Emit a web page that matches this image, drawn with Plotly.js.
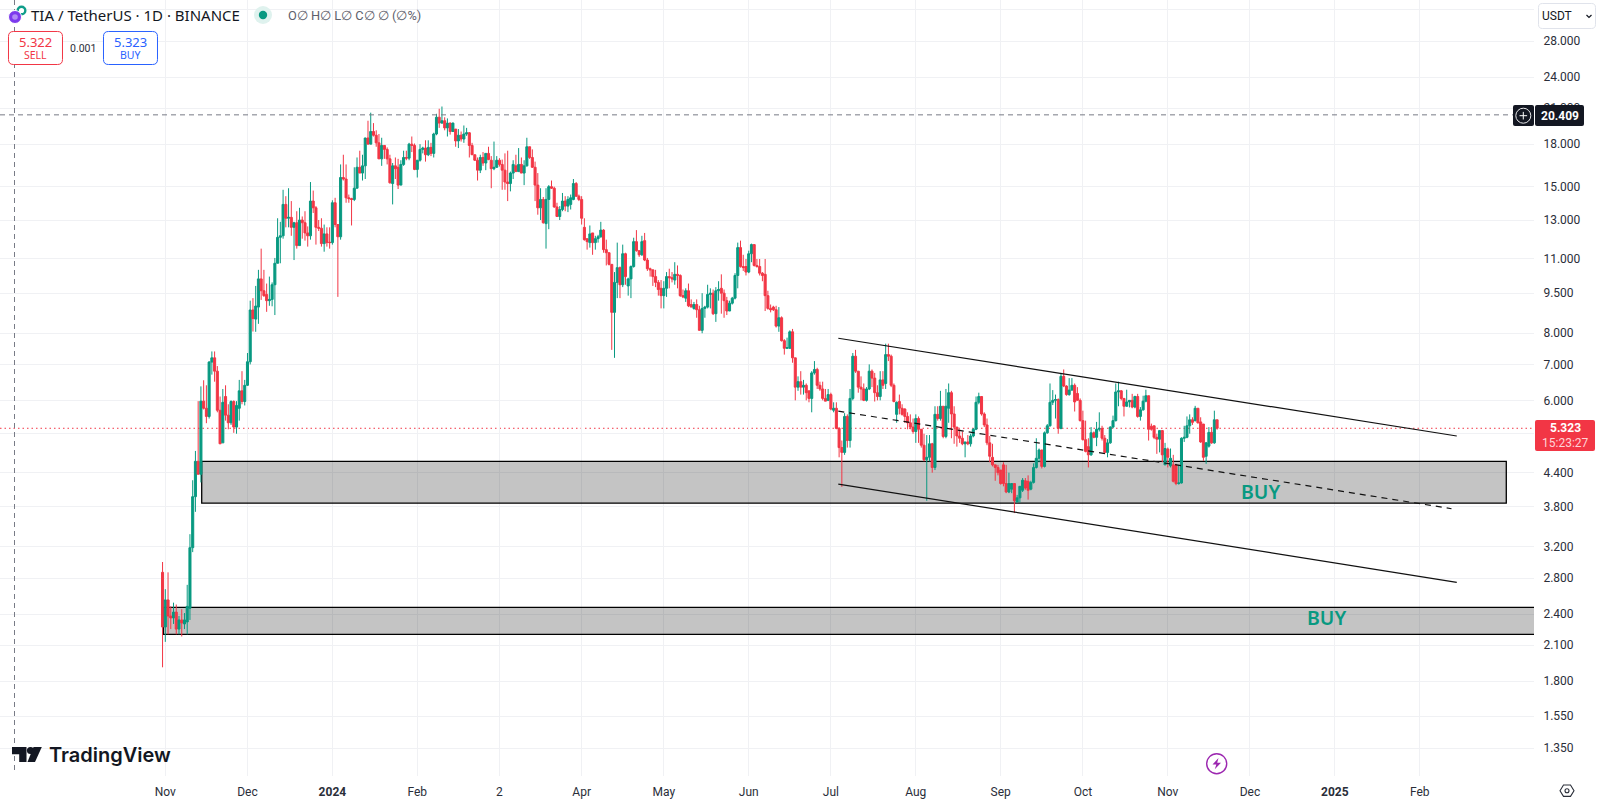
<!DOCTYPE html>
<html>
<head>
<meta charset="utf-8">
<script src="https://cdn.plot.ly/plotly-3.0.1.min.js"></script>
<style>html,body{margin:0;padding:0;background:#fff;overflow:hidden}#chart{width:1597px;height:803px}</style>
</head>
<body>
<div id="chart"></div>
<script>
var firstDay = "2023-10-31";
var opens = [
2.87,2.27,2.55,2.38,2.36,2.42,2.25,2.34,2.3,2.32,
2.46,3.19,3.97,4.62,4.37,5.98,5.8,5.6,7.07,7.2,
6.8,5.75,5,6.1,5.63,5.45,5.97,5.35,5.8,6.25,
5.97,6.4,7.08,8.84,8.5,8.95,10.1,9.6,9.45,9.2,
9.25,9.85,10.8,12.07,12.15,13.9,13.1,13.15,12.6,12.85,
11.65,13,12.85,12.3,12.15,14.1,13.7,12.6,12.55,11.75,
12.25,11.82,11.8,14,12.75,12.1,15.6,15.5,14.3,14.25,
14.2,14.9,16.3,15.9,16.4,18.48,18,19,18.7,18.1,
16.9,17.9,17.6,16.9,15.2,16.4,16.3,15.1,16.5,17,
16.95,18,17.9,16.15,16.8,17.6,17.7,17.2,17.75,17.3,
18.8,20.2,19.7,19.9,19.3,19.7,19,19.2,18.25,18.7,
18.4,18.8,18.9,17.9,17.2,16.8,16.1,17,16.6,17.3,
16.8,16.2,16.3,16.8,16.5,16.1,15.3,15.2,15.9,16.4,
16,16.5,15.9,16.4,17.8,17,16.3,15.1,13.7,14.2,
12.8,14.2,15,14.9,13.75,13.2,13.6,14.1,13.8,13.9,
14.2,15.2,14.4,14.2,12.6,12,11.8,12.3,11.8,12,
12.1,12.45,11.45,11.3,10.75,8.75,9.95,10.6,9.85,11.25,
9.8,10.1,10.65,11.85,11.4,11.2,11.9,10.95,10.55,10.5,
10.2,9.95,9.7,9.4,9.7,10.2,10.15,10.05,10.3,10.25,
9.4,9.3,9.6,9.05,8.9,9.05,8.85,8.1,8.9,8.95,
9.45,9.5,8.7,9.6,9.7,9.5,9.2,8.8,9.1,9.3,
10.25,11.55,10.65,10.65,10.4,11.25,11.7,10.7,10.65,10.35,
10.3,9.4,8.9,8.95,8.85,8.25,8.55,7.75,7.5,7.5,
8.05,7.2,6.35,6.5,6.35,6.4,6.25,6.05,6.75,6.85,
6.4,6.3,6.05,6,6.15,5.75,5.8,5.32,4.9,4.8,
5.6,5.05,6.05,7.25,6.8,6.35,6.3,6,6.3,6.8,
6.6,6.2,6.1,6.55,6.45,7.3,7.25,6.4,5.65,5.97,
5.8,5.78,5.6,5.45,5.35,5.25,5.55,5.3,4.95,4.65,
4.7,4.98,4.5,5.65,5.55,5.85,5.14,5.8,6.2,5.66,
5.35,5.15,5.1,4.98,5.02,4.98,5.15,5.3,5.95,6.1,
5.66,5.4,5,4.7,4.55,4.5,4.45,4.55,4.2,4.05,
4.1,4.2,3.88,3.95,4.08,4.25,4.24,4.1,4.22,4.5,
4.68,4.85,4.52,5.22,5.38,5.95,6,6.02,5.32,6.65,
6.38,6.15,6.27,6.4,6.18,6,5.5,5.07,4.92,4.75,
5.22,5.12,5.3,5.32,5.1,4.8,5,5.35,5.5,6.22,
6.25,6.05,5.85,5.96,6,5.83,6.1,5.6,5.76,5.98,
6.12,5.37,5.38,5.12,5.08,5.27,4.55,4.87,4.53,4.55,
4.55,4.2,4.21,5.1,5.12,5.38,5.52,5.5,5.8,5.47,
5.42,4.72,4.93,5.23,5,5.52
];
var highs = [
3.0,2.67,2.87,2.48,2.52,2.5,2.38,2.45,2.41,2.72,
3.38,4.26,4.83,5.98,6.37,6.54,6.4,7.1,7.4,7.4,
6.95,6.1,6.3,6.4,5.9,6,6,5.98,6.55,6.8,
6.55,7.35,9.2,9.3,9.8,10.5,11.5,10.5,9.9,10.2,
9.95,11.05,13.1,12.9,14.8,14.4,14.9,14.1,12.9,13.5,
13.7,13.2,13.5,12.65,15.3,14.75,13.8,13,13.1,12.75,
12.6,12.6,14.15,14.3,12.75,16.5,17.2,16.5,14.5,14.3,
16.3,17,17.5,17.2,18.5,19.9,20.6,19.7,19.1,18.8,
18.5,17.9,17.75,17.2,16.6,17,16.9,16.8,17.5,17.5,
18.1,18.6,18.05,16.8,18,17.8,18.3,18.3,18.1,18.9,
20.5,20.95,21.15,20.2,20.1,19.75,19.75,19.2,19.2,19,
19.5,19.3,18.95,18.1,17.2,17,17.2,17.4,17.3,17.8,
17.1,18.2,17.1,16.95,16.85,17.3,17.5,16,16.8,17.2,
17.7,17,16.8,18.5,17.8,17.6,16.7,15.9,14.9,14.35,
14.9,15.1,15.4,15,14,13.8,14.6,14.4,14.4,14.5,
15.5,15.3,14.5,14.4,13.1,12,12.7,12.3,12.15,12.2,
12.9,12.5,11.95,11.3,10.75,10.4,11.8,10.65,11.7,11.3,
10.15,10.7,12.05,12.45,11.4,12.15,12.3,11.05,10.6,10.5,
10.5,10.05,10.05,10,10.4,10.55,10.4,10.85,10.7,10.3,
9.65,9.7,9.9,9.25,9.15,9.25,9,9.5,9,9.85,
9.7,9.65,9.75,10,10.3,9.65,9.35,9.2,9.35,10.35,
11.8,11.9,11.2,11,11.4,11.75,11.7,11,11,10.4,
11,9.6,9.05,9,9,8.95,8.6,7.8,7.85,8.1,
8.15,7.2,6.65,6.8,6.55,6.45,6.25,6.8,7.1,6.9,
6.5,6.5,6.3,6.3,6.2,5.95,5.95,5.35,5.05,5.68,
5.65,6.3,7.35,7.45,6.8,6.65,6.45,6.35,7,6.85,
6.75,6.4,6.8,6.8,7.65,7.65,7.3,6.45,5.97,6.15,
5.9,5.8,5.7,5.65,5.55,5.65,5.6,5.3,5.2,5.17,
5.17,5,5.85,5.85,6.25,5.85,6.3,6.45,6.25,5.85,
5.35,5.3,5.25,5.02,5.17,5.2,5.33,6.1,6.2,6.1,
5.7,5.55,5.15,4.98,4.55,4.55,4.45,4.6,4.55,4.4,
4.2,4.2,4,4.15,4.3,4.3,4.35,4.25,4.58,5.1,
4.88,4.85,5.25,5.42,6.45,6.27,6.15,6.05,6.75,6.85,
6.4,6.6,6.6,6.45,6.35,6.05,5.74,5.5,5.1,5.35,
5.25,5.47,5.7,5.38,5.17,5.08,5.37,5.62,6.45,6.5,
6.27,6.06,6.28,6,6.17,6.12,6.17,5.83,6.12,6.28,
6.12,5.43,5.38,5.2,5.27,5.28,5,4.9,4.88,4.75,
4.57,4.55,5.12,5.38,5.6,5.65,5.58,5.86,5.8,5.58,
5.42,5.02,5.35,5.35,5.74,5.52
];
var lows = [
1.91,2.13,2.2,2.25,2.3,2.2,2.2,2.18,2.25,2.2,
2.34,3.13,3.72,4.37,4.22,5.77,5.44,5.55,6.7,6.5,
5.7,4.98,5,5.5,5.3,5.4,5.22,5.2,5.5,5.9,
5.87,6.38,7,8.06,8.05,8.33,9.23,9.35,8.77,9,
8.98,8.65,10.8,10.8,12,12.6,12.6,12.15,10.95,11.5,
11.65,12,11.9,11.6,11.95,13.4,11.7,12.4,11.6,11.35,
11.6,11.5,11.7,12.6,9.35,11.95,15.4,14,14,12.7,
14.1,14.9,15.9,15.4,15.5,18,18,18.6,17.8,16.9,
16.4,16.9,16.5,15.2,13.9,15.5,14.85,15.1,16.4,16.8,
16.8,17.4,16.1,15.6,16.7,17.3,16.7,17.1,17.1,17,
18.7,19.3,19.65,19.1,18.6,18.75,19,17.8,17.7,18.2,
18.1,18.65,17,17.2,16.75,15.4,15.9,16.4,16.1,16.8,
14.9,16.1,16.25,16.35,14.8,14.8,14.1,14.7,15.5,16,
16,15.9,15.1,16.35,16.9,16.25,14.1,13.3,13,12.8,
11.5,12.5,14.85,13.7,13.2,13,13.5,13.5,13.45,13.6,
14.15,14.35,14.1,12.75,11.9,11.45,11.55,11.2,11.45,11.8,
12.05,11.3,10.7,10.7,7.45,7.2,9.3,9.3,9.75,9.85,
9.4,9.3,10.6,11.35,11.1,11.15,10.9,10.45,10.2,9.8,
9.75,9.4,8.9,8.9,9.35,9.7,9.95,9.85,9.7,9.35,
9.3,9.15,8.95,8.95,8.85,8.55,8.1,8,8.55,8.9,
8.9,8.65,8.4,9.2,8.7,8.55,8.65,8.8,9.05,9.25,
9.7,10.6,10.45,10.25,10.35,10.85,10.65,10.6,10.25,10,
8.8,8.85,8.75,8.8,8.2,8.05,7.72,7.3,7.48,7.48,
7.05,6,6.25,6.15,6.15,6,5.95,5.7,6.7,6.3,
6.25,6,5.98,5.98,5.75,5.7,5.3,4.7,4.14,4.75,
4.9,4.9,6,6.75,6.2,6,5.98,5.97,6.27,6.35,
5.97,6,6,6.3,6.3,7.1,6.35,5.95,5.45,5.65,
5.62,5.45,5.3,5.3,5.2,5,5,4.9,4.62,3.9,
4.62,4.4,4.45,5.5,5.5,5.1,5.1,5.45,5.1,4.98,
4.92,5,4.95,4.7,4.95,4.92,5.12,5.28,5.9,5.62,
5.35,4.95,4.6,4.52,4.25,4.35,4.18,4.15,4.03,4.03,
4.03,3.7,3.87,3.87,4.05,4.09,3.92,4.08,4.2,4.48,
4.6,4.48,4.5,5.2,5.36,5.88,5.55,5.2,5.3,6.35,
6.12,6.12,6.25,5.72,6,5.48,5.05,4.8,4.5,4.73,
5.1,4.93,5.25,5.05,4.78,4.7,4.98,5.32,5.48,5.85,
6,5.6,5.84,5.82,5.8,5.8,5.57,5.5,5.74,5.95,
5.05,5.27,5.08,4.77,4.8,4.6,4.55,4.5,4.5,4.22,
4.17,4.18,4.2,5.02,5.1,5.2,5.4,5.48,5.43,5,
4.63,4.57,4.9,4.98,4.98,5.29
];
var closes = [
2.27,2.55,2.38,2.36,2.42,2.25,2.34,2.31,2.34,2.48,
3.19,3.97,4.62,4.37,5.98,5.8,5.6,7.07,7.2,6.8,
5.75,4.98,5.95,5.63,5.45,5.97,5.35,5.87,6.25,5.97,
6.4,7.08,8.84,8.52,8.99,10.1,9.6,9.4,9.2,9.25,
9.85,10.8,12.07,12.15,13.9,13.1,13.15,12.6,12.85,11.65,
13,12.85,12.3,12.15,14.1,13.7,12.6,12.55,11.75,12.25,
11.8,11.8,14,12.75,12.1,15.6,15.5,14.3,14.25,14.2,
14.9,16.3,15.9,16.4,18.48,18,19,18.7,18.1,16.9,
17.9,17.6,16.9,15.25,16.4,16.2,15.1,16.5,17,16.95,
18,17.9,16.15,16.8,17.6,17.7,17.2,17.75,17.3,18.8,
20.2,19.7,19.9,19.3,19.7,19,19.7,18.25,18.7,18.4,
18.8,18.9,17.9,17.2,16.8,16.1,17,16.6,17.3,16.85,
16.2,16.3,16.8,16.5,16.1,15.3,15.2,15.9,16.5,16,
16.5,15.9,16.4,17.8,17,16.3,15.1,13.7,14.2,12.85,
14.2,15,14.9,13.75,13.2,13.6,14.1,13.8,14.2,14.3,
15.2,14.4,14.2,13.1,11.95,11.85,12.25,11.8,12,12.1,
12.45,11.45,11.3,10.75,8.75,9.95,10.6,9.85,11.25,10.2,
10.1,10.65,11.85,11.4,11.2,11.85,10.95,10.55,10.5,10.2,
9.95,9.65,9.4,9.7,10.2,10.15,10.1,10.3,10.25,9.4,
9.35,9.6,9,8.95,9.05,8.85,8.1,8.9,8.95,9.45,
9.5,8.7,9.6,9.65,9.5,9.2,8.8,9.1,9.3,10.25,
11.55,10.65,10.6,10.4,11.25,11.7,10.7,10.65,10.35,10.25,
9.4,8.9,8.85,8.85,8.25,8.55,7.75,7.5,7.52,8.05,
7.2,6.35,6.5,6.35,6.4,6.2,6.05,6.75,6.85,6.4,
6.3,6.05,5.98,6.15,5.78,5.8,5.32,4.9,4.8,5.6,
5.05,6.05,7.25,6.8,6.35,6.3,6,6.3,6.8,6.6,
6.2,6.1,6.55,6.4,7.3,7.25,6.4,5.97,5.95,5.8,
5.65,5.6,5.45,5.35,5.25,5.55,5.3,4.95,4.65,4.7,
4.98,4.5,5.65,5.55,5.85,5.14,5.85,6.2,5.66,5.35,
5.15,5.1,4.98,5.02,4.98,5.15,5.3,5.95,6.1,5.66,
5.4,5,4.72,4.55,4.5,4.4,4.2,4.2,4.05,4.2,
4.2,3.9,3.95,4.15,4.26,4.12,4.08,4.22,4.5,4.68,
4.85,4.52,5.22,5.38,5.95,6,6.02,5.32,6.65,6.38,
6.15,6.27,6.4,5.96,6,5.5,5.07,4.82,4.75,5.22,
5.12,5.3,5.32,5.1,4.8,5,5.35,5.5,6.22,6.25,
6.05,5.85,5.96,6,5.83,6.1,5.6,5.76,5.98,6.12,
5.3,5.3,5.12,5.08,5.27,4.75,4.88,4.7,4.68,4.24,
4.2,4.21,5.1,5.12,5.38,5.52,5.46,5.8,5.45,5.02,
4.7,5,5.23,5,5.52,5.323
];

var priceTicks = [32,28,24,21,18,15,13,11,9.5,8,7,6,5.2,4.4,3.8,3.2,2.8,2.4,2.1,1.8,1.55,1.35];
var priceLabels = ["","28.000","24.000","21.000","18.000","15.000","13.000","11.000","9.500","8.000","7.000","6.000","","4.400","3.800","3.200","2.800","2.400","2.100","1.800","1.550","1.350"];
var timeTicks = ["2023-11-01","2023-12-01","2024-01-01","2024-02-01","2024-03-02","2024-04-01","2024-05-01","2024-06-01","2024-07-01","2024-08-01","2024-09-01","2024-10-01","2024-11-01","2024-12-01","2025-01-01","2025-02-01"];
var timeLabels = ["Nov","Dec","<b>2024</b>","Feb","2","Apr","May","Jun","Jul","Aug","Sep","Oct","Nov","Dec","<b>2025</b>","Feb"];

var lastPrice = 5.323, crossPrice = 20.409;
var upperZone = {x0:"2023-11-14 07:00", x1:"2025-03-04 14:00", y0:3.86, y1:4.62};
var lowerZone = {x0:"2023-10-31 07:00", x1:"2025-06-01", y0:2.2, y1:2.47};
var channelTop = {x0:"2024-07-03 17:00", y0:7.83, x1:"2025-02-14 12:00", y1:5.15};
var channelBottom = {x0:"2024-07-03 17:00", y0:4.19, x1:"2025-02-14 12:00", y1:2.75};
var channelMid = {x0:"2024-07-03 17:00", y0:5.73, x1:"2025-02-12 14:00", y1:3.77};

var dates = [];
var t0 = Date.parse(firstDay + "T00:00:00Z");
for (var i = 0; i < closes.length; i++) dates.push(new Date(t0 + i * 864e5).toISOString().slice(0, 10));

var UP = "#089981", DOWN = "#f23645", INK = "#131722", GRID = "#f0f1f4";
var FONT = "Roboto, sans-serif", HEAD = "Noto Sans, sans-serif";
var W = 1534, H = 776;
function px(x){return x / W;}
function py(y){return 1 - y / H;}
function pr(x,y){return px(x).toFixed(5) + "," + py(y).toFixed(5);}
function rr(x0,y0,x1,y1,r){
  var f = function(a,b){return pr(a,b);};
  return "M"+f(x0+r,y0)+" L"+f(x1-r,y0)+" Q"+f(x1,y0)+" "+f(x1,y0+r)+" L"+f(x1,y1-r)+" Q"+f(x1,y1)+" "+f(x1-r,y1)+
         " L"+f(x0+r,y1)+" Q"+f(x0,y1)+" "+f(x0,y1-r)+" L"+f(x0,y0+r)+" Q"+f(x0,y0)+" "+f(x0+r,y0)+" Z";
}
function path(d,fill,stroke,w){return {type:"path",xref:"paper",yref:"paper",path:d,fillcolor:fill||"rgba(0,0,0,0)",line:{color:stroke||"rgba(0,0,0,0)",width:w||0},layer:"above"};}
function poly(pts,fill,stroke,w,open){return path("M"+pts.map(function(p){return pr(p[0],p[1]);}).join(" L")+(open?"":" Z"),fill,stroke,w);}
function circ(cx,cy,r,fill,stroke,w){return {type:"circle",xref:"paper",yref:"paper",x0:px(cx-r),x1:px(cx+r),y0:py(cy+r),y1:py(cy-r),fillcolor:fill||"rgba(0,0,0,0)",line:{color:stroke||"rgba(0,0,0,0)",width:w||0},layer:"above"};}
function txt(x,y,text,size,color,anchor,font,weight){return {xref:"paper",yref:"paper",x:px(x),y:py(y),text:text,showarrow:false,xanchor:anchor||"left",yanchor:"middle",align:anchor||"left",font:{family:font||FONT,size:size,color:color||INK,weight:weight||400},borderpad:0,borderwidth:0};}

var shapes = [
  {type:"rect",xref:"x",yref:"y",x0:upperZone.x0,x1:upperZone.x1,y0:upperZone.y0,y1:upperZone.y1,fillcolor:"rgba(0,0,0,0.23)",line:{color:"#000",width:1.3},layer:"between"},
  {type:"rect",xref:"x",yref:"y",x0:lowerZone.x0,x1:lowerZone.x1,y0:lowerZone.y0,y1:lowerZone.y1,fillcolor:"rgba(0,0,0,0.23)",line:{color:"#000",width:1.3},layer:"between"},
  {type:"line",xref:"paper",yref:"y",x0:0,x1:1,y0:lastPrice,y1:lastPrice,line:{color:DOWN,width:1,dash:"1.5px,3px"},layer:"between"},
  {type:"line",xref:"x",yref:"y",x0:channelTop.x0,x1:channelTop.x1,y0:channelTop.y0,y1:channelTop.y1,line:{color:"#111",width:1.2},layer:"above"},
  {type:"line",xref:"x",yref:"y",x0:channelBottom.x0,x1:channelBottom.x1,y0:channelBottom.y0,y1:channelBottom.y1,line:{color:"#111",width:1.2},layer:"above"},
  {type:"line",xref:"x",yref:"y",x0:channelMid.x0,x1:channelMid.x1,y0:channelMid.y0,y1:channelMid.y1,line:{color:"#111",width:1.2,dash:"6px,5px"},layer:"above"},
  {type:"line",xref:"paper",yref:"y",x0:0,x1:px(1513),y0:crossPrice,y1:crossPrice,line:{color:"#787b86",width:1,dash:"5px,4px"},layer:"above"},
  {type:"line",xref:"paper",yref:"paper",x0:px(14.5),x1:px(14.5),y0:py(0),y1:py(774),line:{color:"#787b86",width:1,dash:"5px,4px"},layer:"above"},

  // header symbol icons
  circ(21.5,10.5,5,"#0f9d8a"), circ(21.5,10.5,2.6,"#ffffff"),
  circ(15,17,6.5,"#7c3aed","#ffffff",1), circ(15,17,2.8,"#b18cf5"),
  circ(263,15,9,"#dff2ee"), circ(263,15,4.2,UP),
  // sell / buy buttons
  path(rr(8.5,31.5,62.5,64.5,5),"#ffffff",DOWN,1),
  path(rr(103.5,31.5,157.5,64.5,5),"#ffffff","#2962ff",1),
  // currency selector
  path(rr(1538.5,3.5,1595.5,28.5,4),"#ffffff","#e0e3eb",1),
  poly([[1586.5,15],[1589,17.5],[1591.5,15]],null,INK,1.2,true),
  // crosshair price tag
  path(rr(1513,105,1534,126,2),INK),
  path(rr(1535,105,1584,126,2),INK),
  circ(1523.3,115.7,7.5,null,"#e8e8ea",1),
  poly([[1519.5,115.7],[1527.1,115.7]],null,"#ffffff",1,true),
  poly([[1523.3,111.9],[1523.3,119.5]],null,"#ffffff",1,true),
  // last price tag
  path(rr(1535,420,1595,451,2),DOWN),
  // logo
  poly([[12,747],[26.5,747],[26.5,762],[19.2,762],[19.2,754.3],[12,754.3]],INK),
  circ(30.5,750.5,3.6,INK),
  poly([[33.5,747],[41.8,747],[35,762],[27.5,762]],INK),
  // lightning badge
  circ(1216.7,763.7,10,null,"#9c27b0",1.4),
  poly([[1218.5,758],[1212.5,764.5],[1216.3,764.5],[1214.8,769.2],[1221,762.8],[1217.2,762.8]],"#9c27b0"),
  // settings hexagon
  poly([[1560,790.7],[1563.5,785],[1570.5,785],[1574,790.7],[1570.5,796.4],[1563.5,796.4]],null,"#2a2e39",1.1),
  circ(1567,790.7,2,null,"#2a2e39",1.1)
];

var annotations = [
  txt(31,15,"TIA / TetherUS · 1D · BINANCE",15,INK,"left",HEAD),
  txt(288,15,"O∅ H∅ L∅ C∅ ∅ (∅%)",12.8,"#5d606b"),
  txt(35.5,41.5,"5.322",13,DOWN,"center",HEAD),
  txt(35.5,55.5,"SELL",10.5,DOWN,"center",HEAD),
  txt(82.5,48.5,"0.001",10.5,"#2a2e39","center"),
  txt(130.5,41.5,"5.323",13,"#2962ff","center",HEAD),
  txt(130.5,55.5,"BUY",10.5,"#2962ff","center",HEAD),
  txt(1542,15.5,"USDT",12,INK),
  txt(1559.5,115.5,"<b>20.409</b>",12,"#ffffff","center"),
  txt(1565,428,"<b>5.323</b>",12,"#ffffff","center"),
  txt(1565,442.5,"15:23:27",12,"#ffd3d7","center"),
  txt(48.5,755,"TradingView",20,INK,"left","Inter, sans-serif",600),
  {xref:"x",yref:"y",x:"2024-12-04 17:00",y:Math.log10(4.06),text:"BUY",showarrow:false,xanchor:"center",yanchor:"middle",font:{family:HEAD,size:19.5,weight:600,color:UP}},
  {xref:"x",yref:"y",x:"2024-12-28 19:00",y:Math.log10(2.36),text:"BUY",showarrow:false,xanchor:"center",yanchor:"middle",font:{family:HEAD,size:19.5,weight:600,color:UP}}
];

var trace = {
  type:"candlestick",
  x:dates, open:opens, high:highs, low:lows, close:closes,
  increasing:{line:{color:UP,width:1},fillcolor:UP},
  decreasing:{line:{color:DOWN,width:1},fillcolor:DOWN},
  whiskerwidth:0,
  hoverinfo:"skip"
};

var layout = {
  width:1597, height:803,
  margin:{l:0,r:63,t:0,b:27,pad:0},
  paper_bgcolor:"#ffffff", plot_bgcolor:"#ffffff",
  showlegend:false, dragmode:false, hovermode:false,
  boxgap:0.25, boxgroupgap:0,
  xaxis:{type:"date",range:["2023-09-01 15:36","2025-03-14 16:48"],rangeslider:{visible:false},
    tickmode:"array",tickvals:timeTicks,ticktext:timeLabels,showgrid:true,gridcolor:GRID,gridwidth:1,
    zeroline:false,showline:false,ticks:"outside",ticklen:5,tickcolor:"rgba(0,0,0,0)",
    tickfont:{family:FONT,size:12,color:"#2a2e39"},tickangle:0,fixedrange:true},
  yaxis:{type:"log",side:"right",range:[0.0786,1.5237],autorange:false,
    tickmode:"array",tickvals:priceTicks,ticktext:priceLabels,showgrid:true,gridcolor:GRID,gridwidth:1,
    zeroline:false,showline:false,ticks:"outside",ticklen:6,tickcolor:"rgba(0,0,0,0)",
    tickfont:{family:FONT,size:12,color:"#2a2e39"},fixedrange:true},
  shapes:shapes, annotations:annotations
};

Plotly.newPlot("chart",[trace],layout,{displayModeBar:false,responsive:false});
</script>
</body>
</html>
